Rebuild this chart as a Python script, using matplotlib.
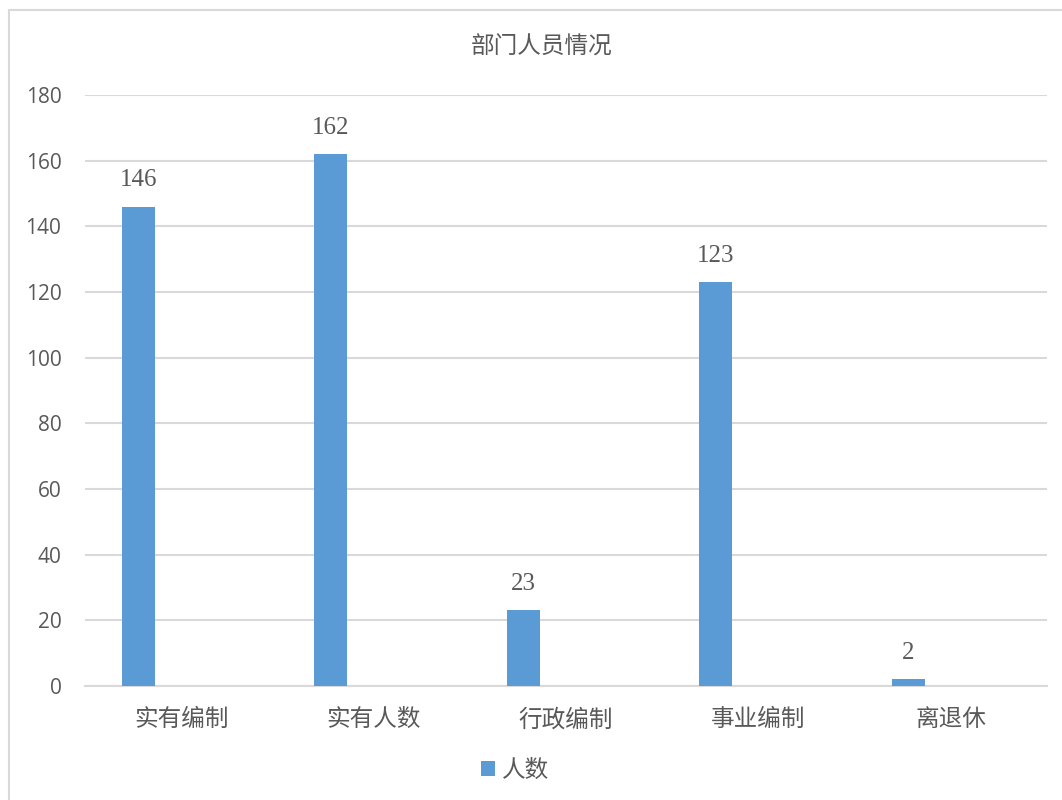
import matplotlib.pyplot as plt
from matplotlib.patches import Rectangle
import numpy as np

plt.rcParams['font.family'] = ['Noto Sans CJK SC', 'DejaVu Sans']

categories = ['实有编制', '实有人数', '行政编制', '事业编制', '离退休']
values = [146, 162, 23, 123, 2]
series_name = '人数'
title = '部门人员情况'

bar_color = '#5B9BD5'
grid_color = '#D9D9D9'
text_color = '#595959'

fig = plt.figure(figsize=(10.62, 8), dpi=100)

# outer chart border (Excel-style), partly clipped on the right/bottom
fig.patches.append(Rectangle((9 / 1062, -0.1), 1.2, 1 - 10 / 800 + 0.1,
                             transform=fig.transFigure, fill=False,
                             edgecolor=grid_color, linewidth=1.5))

ax = fig.add_axes([85 / 1062, 1 - 686 / 800, (1047 - 85) / 1062, (686 - 95) / 800])

x = np.arange(len(categories))
ax.bar(x - 0.222, values, width=0.172, color=bar_color, label=series_name, zorder=3)

for xi, v in zip(x, values):
    ax.annotate(str(v), (xi - 0.222, v), xytext=(0, 11), textcoords='offset points',
                ha='center', va='bottom', fontsize=18, color=text_color,
                family=['Liberation Serif', 'DejaVu Serif'])

ax.set_xlim(-0.5, len(categories) - 0.5)
ax.set_ylim(0, 180)
ax.set_yticks(range(0, 181, 20))
ax.yaxis.grid(True, color=grid_color, linewidth=1.5, zorder=0)
for s in ['top', 'right', 'left']:
    ax.spines[s].set_visible(False)
ax.spines['bottom'].set_color(grid_color)
ax.spines['bottom'].set_linewidth(1.5)

ax.set_xticks(x)
ax.set_xticklabels(categories, fontsize=17, color=text_color)
ax.tick_params(axis='x', length=0, pad=16)
ax.tick_params(axis='y', length=0, pad=17, labelsize=15, labelcolor=text_color)
for lbl in ax.get_yticklabels():
    lbl.set_family(['Open Sans', 'DejaVu Sans'])

fig.text(542 / 1062, 1 - 47 / 800, title, ha='center', va='center',
         fontsize=17, color=text_color)

ax.legend(loc='center', bbox_to_anchor=(515 / 1062, 1 - 770 / 800),
          bbox_transform=fig.transFigure, frameon=False, fontsize=17,
          labelcolor=text_color, handlelength=0.6, handleheight=0.6,
          handletextpad=0.3)

fig.savefig('out.png', dpi=100, facecolor='white')
